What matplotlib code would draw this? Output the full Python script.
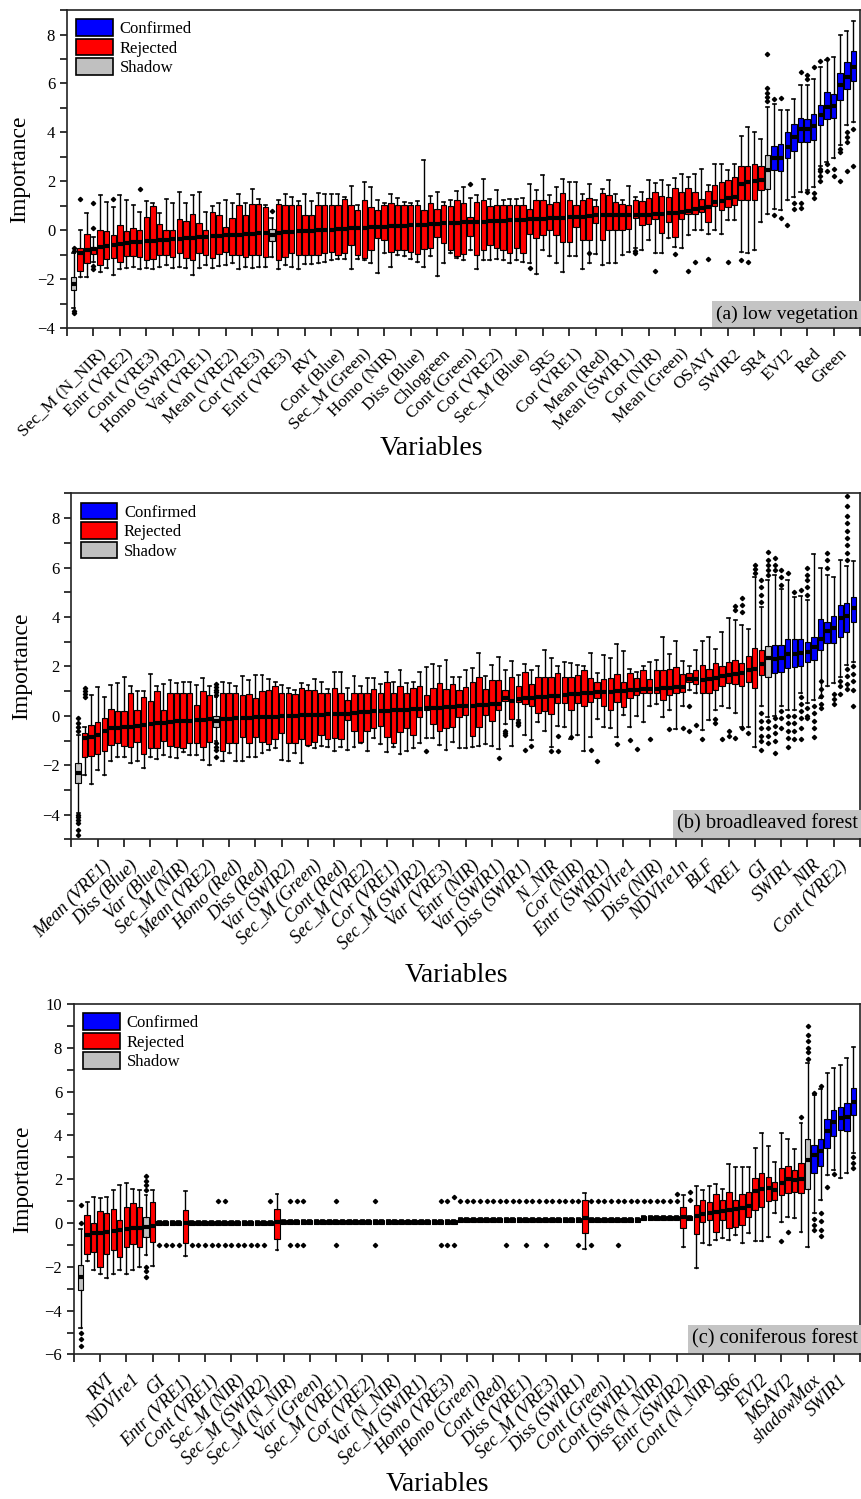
import matplotlib
matplotlib.use('Agg')
import matplotlib.pyplot as plt
import matplotlib.transforms as mtransforms
from matplotlib.patches import Patch
from matplotlib.ticker import MultipleLocator

plt.rcParams['font.family'] = ['Liberation Serif', 'DejaVu Serif']

RED, BLUE, GREY = '#ff0000', '#0000ff', '#c0c0c0'

# ---------------- (a) low vegetation ----------------
labels_a = ['Sec_M (N_NIR)', 'Entr (VRE2)', 'Cont (VRE3)', 'Homo (SWIR2)', 'Var (VRE1)',
            'Mean (VRE2)', 'Cor (VRE3)', 'Entr (VRE3)', 'RVI', 'Cont (Blue)', 'Sec_M (Green)',
            'Homo (NIR)', 'Diss (Blue)', 'Chlogreen', 'Cont (Green)', 'Cor (VRE2)',
            'Sec_M (Blue)', 'SR5', 'Cor (VRE1)', 'Mean (Red)', 'Mean (SWIR1)', 'Cor (NIR)',
            'Mean (Green)', 'OSAVI', 'SWIR2', 'SR4', 'EVI2', 'Red', 'Green']
q1_a = [-2.45, -1.66, -1.36, -0.98, -1.43, -1.16, -1.13, -1.29, -1.06, -1.06,
        -1.09, -1.22, -1.18, -1.02, -1.02, -1.09, -0.95, -1.12, -1.22, -0.95,
        -1.02, -1.12, -0.98, -0.88, -1.02, -1.02, -1.09, -1.02, -1.02, -1.09,
        -0.44, -1.22, -1.09, -0.95, -1.02, -1.02, -1.02, -1.02, -0.95, -0.88,
        -1.02, -0.95, -0.61, -1.02, -1.12, -0.82, -0.34, -0.41, -0.88, -0.82,
        -0.82, -0.88, -0.98, -0.78, -0.75, -0.30, -0.52, -0.82, -1.06, -0.98,
        -0.24, -1.02, -0.82, -0.61, -0.75, -0.82, -0.95, -0.71, -0.95, -0.14,
        -0.34, -0.20, 0.00, -0.20, -0.48, -0.48, 0.14, -0.41, -0.41, 0.30,
        -0.41, 0.00, 0.00, 0.00, 0.03, 0.50, 0.20, 0.27, 0.44, -0.11,
        0.34, -0.27, 0.44, 0.68, 0.68, 0.75, 0.34, 0.98, 0.84, 0.93,
        1.02, 1.22, 1.22, 1.25, 1.63, 1.70, 2.45, 2.42, 2.93, 3.24,
        3.61, 3.61, 3.67, 4.29, 4.56, 4.60, 5.31, 5.78, 6.10]
med_a = [-2.20, -0.95, -0.82, -0.78, -0.70, -0.64, -0.60, -0.57, -0.54, -0.50,
         -0.48, -0.46, -0.44, -0.41, -0.39, -0.37, -0.35, -0.33, -0.31, -0.29,
         -0.27, -0.25, -0.23, -0.21, -0.20, -0.18, -0.17, -0.15, -0.13, -0.12,
         -0.20, -0.10, -0.08, -0.07, -0.05, -0.04, -0.03, -0.01, 0.00, 0.02,
         0.04, 0.05, 0.07, 0.08, 0.10, 0.11, 0.13, 0.14, 0.16, 0.17,
         0.19, 0.20, 0.22, 0.23, 0.25, 0.26, 0.28, 0.29, 0.30, 0.32,
         0.33, 0.34, 0.35, 0.37, 0.38, 0.39, 0.41, 0.42, 0.43, 0.45,
         0.46, 0.47, 0.49, 0.50, 0.51, 0.52, 0.54, 0.55, 0.56, 0.60,
         0.60, 0.61, 0.61, 0.62, 0.62, 0.63, 0.64, 0.64, 0.65, 0.66,
         0.70, 0.72, 0.75, 0.80, 0.85, 0.90, 0.95, 1.15, 1.20, 1.30,
         1.35, 1.90, 1.95, 2.00, 2.05, 2.45, 2.93, 2.95, 3.40, 3.80,
         4.15, 4.15, 4.24, 4.69, 5.03, 5.06, 5.92, 6.26, 6.67]
q3_a = [-1.90, -0.75, -0.14, -0.68, 0.00, -0.04, -0.20, 0.20, -0.04, 0.10,
        0.00, 0.54, 0.99, 0.27, 0.00, 0.00, 0.44, 0.37, 0.68, 0.31,
        0.00, 0.75, 0.61, 0.14, 0.48, 1.02, 0.61, 1.06, 1.06, 0.95,
        0.03, 1.06, 1.02, 1.02, 1.02, 0.61, 0.61, 1.02, 1.02, 1.02,
        1.02, 1.29, 1.02, 0.82, 1.25, 0.95, 0.84, 1.02, 1.09, 1.02,
        1.02, 1.02, 1.02, 0.82, 1.09, 0.88, 1.02, 0.98, 1.22, 1.09,
        0.54, 1.16, 1.22, 0.98, 1.02, 1.02, 1.02, 1.02, 1.02, 0.88,
        1.25, 1.22, 1.06, 1.16, 1.50, 1.22, 1.02, 1.25, 1.32, 0.98,
        1.52, 1.44, 1.17, 1.06, 1.03, 1.25, 1.20, 1.33, 1.56, 1.40,
        1.36, 1.73, 1.56, 1.74, 1.56, 1.29, 1.61, 1.84, 1.96, 2.04,
        2.18, 2.63, 2.63, 2.72, 2.63, 3.09, 3.44, 3.51, 4.01, 4.35,
        4.60, 4.56, 4.76, 5.13, 5.65, 5.58, 6.42, 6.87, 7.32]
lo_a = [-3.20, -1.90, -1.90, -1.30, -1.70, -1.56, -1.84, -1.60, -1.56, -1.50,
        -1.60, -1.54, -1.60, -1.52, -1.43, -1.56, -1.52, -1.56, -1.84, -1.54,
        -1.43, -1.56, -1.47, -1.43, -1.36, -1.60, -1.52, -1.56, -1.52, -1.52,
        -1.09, -1.60, -1.43, -1.50, -1.59, -1.39, -1.40, -1.36, -1.29, -1.22,
        -1.16, -1.16, -1.60, -1.16, -1.20, -1.36, -1.74, -0.95, -1.52, -1.02,
        -1.06, -1.16, -1.29, -1.52, -1.06, -1.88, -1.36, -0.95, -1.12, -1.22,
        -0.82, -1.60, -1.20, -1.22, -1.16, -1.22, -1.33, -1.22, -1.29, -1.36,
        -1.80, -0.82, -1.06, -1.36, -1.70, -1.06, -1.06, -1.58, -1.36, -0.98,
        -1.43, -1.36, -1.36, -1.02, -0.88, -0.75, -0.82, -0.41, -0.95, -0.95,
        -0.34, -0.68, -0.75, -0.20, 0.00, 0.00, -0.14, 0.00, -0.14, 0.41,
        0.41, -0.88, -0.95, -0.82, 0.34, 0.68, 0.88, 0.84, 1.22, 1.36,
        1.56, 1.63, 1.77, 2.61, 2.79, 2.93, 3.47, 4.29, 4.42]
hi_a = [-0.95, 0.00, 0.72, -0.30, 1.43, 1.16, 0.95, 1.43, 1.22, 1.02,
        0.75, 1.20, 1.09, 0.72, 1.27, 1.09, 1.56, 1.09, 1.43, 1.56,
        0.75, 0.98, 1.09, 1.22, 1.12, 1.47, 1.09, 1.70, 1.29, 1.02,
        0.48, 1.22, 1.47, 1.36, 1.20, 1.47, 1.20, 1.52, 1.47, 1.47,
        1.46, 1.35, 1.81, 1.02, 1.97, 1.77, 1.22, 1.09, 1.46, 1.32,
        1.16, 1.12, 1.18, 2.86, 1.40, 1.54, 1.15, 1.25, 1.61, 1.77,
        1.33, 1.43, 2.10, 1.29, 1.63, 1.22, 1.29, 1.29, 1.32, 1.88,
        1.66, 2.27, 1.43, 1.77, 2.10, 1.97, 1.95, 1.47, 1.90, 1.25,
        1.70, 2.07, 1.47, 1.22, 1.81, 1.36, 1.55, 2.04, 1.93, 2.07,
        1.84, 2.15, 2.31, 2.18, 2.31, 2.52, 1.84, 2.69, 2.72, 2.45,
        2.72, 3.84, 4.22, 4.01, 3.74, 5.03, 5.17, 4.90, 4.90, 5.37,
        5.92, 5.92, 6.19, 6.67, 6.94, 7.07, 7.96, 8.14, 8.57]
fliers_a = {1: [-3.4, -3.3, -0.85, -0.75], 2: [1.27], 4: [1.09, 0.07, -1.45, -1.6], 7: [1.27],
            11: [1.67], 31: [0.8], 61: [1.9], 70: [-1.56], 79: [-0.95], 86: [-0.85, -0.95],
            89: [-1.66], 92: [-0.98], 94: [-1.66], 95: [-1.29], 97: [-1.16], 100: [-1.29],
            102: [-1.2], 103: [-1.29], 106: [5.3, 5.45, 5.6, 5.8, 7.2], 107: [0.61, 5.35],
            108: [0.48, 5.42], 109: [0.2], 110: [1.09, 0.85], 111: [6.46, 1.09, 0.9],
            112: [6.2, 6.33, 1.56], 113: [6.67, 1.5, 1.3], 114: [2.0, 2.2, 2.4, 2.5, 6.9],
            115: [2.7, 2.4, 7.0], 116: [2.5, 2.2], 117: [3.3, 3.2, 2.0],
            118: [4.0, 3.8, 3.6, 2.4], 119: [4.15, 2.63]}
shadow_a = [1, 31, 106]
confirmed_a = [107, 108, 109, 110, 111, 112, 113, 114, 115, 116, 117, 118, 119]

# ---------------- (b) broadleaved forest ----------------
labels_b = ['Mean (VRE1)', 'Diss (Blue)', 'Var (Blue)', 'Sec_M (NIR)', 'Mean (VRE2)',
            'Homo (Red)', 'Diss (Red)', 'Var (SWIR2)', 'Sec_M (Green)', 'Cont (Red)',
            'Sec_M (VRE2)', 'Cor (VRE1)', 'Sec_M (SWIR2)', 'Var (VRE3)', 'Entr (NIR)',
            'Var (SWIR1)', 'Diss (SWIR1)', 'N_NIR', 'Cor (NIR)', 'Entr (SWIR1)', 'NDVIre1',
            'Diss (NIR)', 'NDVIre1n', 'BLF', 'VRE1', 'GI', 'SWIR1', 'NIR', 'Cont (VRE2)']
q1_b = [-2.73, -1.65, -1.62, -1.54, -1.44, -1.17, -1.11, -1.21, -1.27, -1.04,
        -1.54, -1.31, -1.31, -1.00, -1.21, -1.27, -1.31, -1.08, -1.08, -1.24,
        -1.07, -0.43, -1.44, -1.11, -1.11, -0.86, -1.11, -0.84, -1.04, -1.13,
        -0.94, -0.70, -1.08, -1.08, -0.94, -1.17, -1.04, -0.77, -0.94, -0.90,
        -0.94, -0.16, -0.63, -1.04, -0.63, -0.50, -0.40, -0.84, -1.08, -0.67,
        -0.50, -0.77, -0.03, 0.24, -0.32, -0.63, -0.50, -0.46, -0.05, 0.04,
        -0.81, -0.43, 0.04, -0.19, 0.24, 0.62, -0.13, 0.58, 0.49, 0.40,
        0.13, 0.18, 0.08, 0.51, 0.51, 0.24, 0.51, 0.38, 0.58, 0.72,
        0.40, 0.24, 0.58, 0.34, 0.72, 0.85, 0.92, 0.92, 0.92, 0.65,
        0.85, 0.92, 0.98, 1.39, 1.30, 0.94, 0.92, 1.05, 1.21, 1.35,
        1.30, 1.21, 1.39, 1.12, 1.66, 1.59, 1.73, 1.79, 1.93, 1.97,
        2.00, 2.20, 2.27, 2.67, 2.94, 2.94, 3.21, 3.41, 3.78]
med_b = [-2.32, -0.90, -0.84, -0.77, -0.63, -0.50, -0.49, -0.46, -0.43, -0.40,
         -0.36, -0.32, -0.30, -0.27, -0.23, -0.22, -0.20, -0.19, -0.16, -0.15,
         -0.13, -0.20, -0.12, -0.11, -0.09, -0.08, -0.07, -0.06, -0.05, -0.04,
         -0.03, -0.01, 0.00, 0.01, 0.02, 0.03, 0.04, 0.05, 0.06, 0.07,
         0.08, 0.09, 0.11, 0.15, 0.17, 0.18, 0.19, 0.20, 0.22, 0.23,
         0.25, 0.26, 0.28, 0.30, 0.32, 0.33, 0.35, 0.37, 0.38, 0.40,
         0.42, 0.44, 0.46, 0.48, 0.50, 0.72, 0.60, 0.70, 0.72, 0.74,
         0.76, 0.78, 0.80, 0.82, 0.85, 0.87, 0.89, 0.91, 0.93, 0.95,
         0.96, 0.98, 1.00, 1.01, 1.03, 1.05, 1.07, 1.09, 1.10, 1.12,
         1.14, 1.16, 1.18, 1.50, 1.50, 1.45, 1.48, 1.55, 1.60, 1.65,
         1.70, 1.75, 1.85, 1.90, 2.10, 2.35, 2.30, 2.35, 2.50, 2.50,
         2.55, 2.60, 2.80, 3.10, 3.45, 3.55, 3.95, 4.05, 4.35]
q3_b = [-1.92, -0.70, -0.36, -0.26, -0.07, 0.27, 0.18, 0.18, 0.94, 0.22,
        0.78, 0.62, 0.99, 0.22, 0.94, 0.94, 0.94, 0.94, 0.45, 0.99,
        0.85, 0.00, 0.94, 0.94, 0.94, 0.85, 0.89, 0.72, 0.99, 1.03,
        1.21, 0.92, 0.94, 0.89, 1.12, 1.05, 1.03, 0.94, 0.92, 1.12,
        0.94, 0.65, 0.94, 0.92, 0.92, 1.08, 0.94, 1.39, 0.92, 1.21,
        0.94, 1.12, 1.21, 0.85, 1.12, 1.32, 1.08, 1.30, 1.03, 1.16,
        1.39, 1.57, 1.08, 1.46, 1.46, 1.05, 1.59, 1.21, 1.79, 1.30,
        1.57, 1.57, 1.57, 1.75, 1.59, 1.59, 1.66, 1.86, 1.52, 1.39,
        1.50, 1.52, 1.70, 1.39, 1.75, 1.52, 1.84, 1.48, 1.84, 1.86,
        1.89, 1.97, 1.70, 1.75, 1.86, 2.06, 1.89, 2.16, 2.00, 2.20,
        2.27, 2.16, 2.43, 2.74, 2.67, 2.83, 2.87, 2.87, 3.10, 3.10,
        3.10, 2.97, 3.21, 3.91, 3.78, 4.05, 4.49, 4.56, 4.83]
lo_b = [-3.94, -2.39, -2.77, -2.21, -2.39, -1.81, -1.67, -1.67, -1.89, -1.81,
        -2.12, -1.67, -1.75, -1.58, -1.65, -1.71, -1.48, -1.58, -1.58, -1.78,
        -1.98, -1.00, -1.81, -1.51, -1.81, -1.81, -1.65, -1.67, -1.51, -1.38,
        -1.31, -1.78, -1.81, -1.51, -1.89, -1.21, -1.30, -1.21, -1.24, -1.44,
        -1.27, -1.38, -1.24, -1.11, -1.44, -0.90, -1.13, -1.48, -1.24, -1.54,
        -1.44, -1.31, -1.11, -0.90, -0.90, -1.17, -1.38, -1.04, -1.31, -1.31,
        -1.24, -1.21, -1.13, -1.21, -1.35, -0.32, -1.21, -0.16, -0.77, -0.97,
        -0.23, -0.63, -1.24, -0.40, -0.43, -0.94, -0.77, -1.44, -0.84, -0.11,
        -0.43, -0.50, -0.84, 0.04, -0.43, 0.00, -0.23, 0.40, 0.48, -0.05,
        0.24, -0.54, 0.38, 1.05, 0.92, -0.57, -0.16, 0.24, 0.38, 0.31,
        0.11, -0.43, -0.43, -1.27, 0.40, -0.03, 0.00, 0.38, 0.24, 0.24,
        0.92, 0.54, 0.65, 0.72, 1.19, 1.32, 1.59, 2.05, 2.19]
hi_b = [-0.77, -0.45, 0.85, 1.16, 0.78, 1.26, 1.32, 1.57, 1.19, 1.01,
        0.99, 1.70, 1.20, 1.28, 1.46, 1.32, 1.39, 1.39, 1.23, 1.52,
        1.19, 0.75, 1.36, 1.32, 1.21, 1.62, 1.46, 1.66, 1.66, 1.48,
        1.39, 1.26, 1.12, 1.05, 1.32, 1.26, 1.48, 1.39, 1.10, 1.79,
        1.79, 1.12, 1.62, 1.21, 1.52, 1.52, 1.30, 1.79, 1.39, 1.86,
        1.35, 1.39, 1.79, 1.97, 2.11, 2.02, 2.27, 1.57, 1.59, 1.86,
        1.93, 2.54, 1.62, 2.06, 2.40, 1.84, 2.24, 1.66, 2.11, 1.84,
        2.02, 2.67, 2.33, 2.02, 2.20, 2.16, 2.06, 2.00, 2.54, 1.73,
        2.47, 2.33, 2.91, 2.63, 1.89, 1.79, 2.00, 2.20, 2.27, 3.18,
        2.51, 3.05, 2.24, 2.02, 2.67, 3.02, 3.21, 2.70, 3.41, 3.95,
        3.89, 3.68, 3.51, 5.61, 4.42, 5.50, 5.71, 5.13, 5.51, 4.80,
        4.86, 4.70, 6.56, 5.98, 5.71, 5.64, 6.32, 6.05, 6.25]
fliers_b = {1: [-0.1, -0.3, -0.45, -0.63, -4.0, -4.1, -4.2, -4.35, -4.6, -4.82],
            2: [0.78, 0.9, 1.02, 1.12],
            22: [0.85, 0.95, 1.05, 1.15, 1.28, -1.1, -1.25, -1.4, -1.65],
            54: [-1.44], 65: [-1.71], 66: [-0.63, -0.7, -0.77], 68: [-0.23, -0.3, -0.36],
            69: [-1.38], 70: [-1.21], 73: [-1.44], 74: [-0.81, -1.44], 76: [-0.84],
            79: [-1.38], 80: [-1.81], 83: [-1.13], 85: [-0.99], 86: [-1.35], 88: [-0.94],
            91: [-0.54], 93: [-0.5], 94: [0.38, -0.63], 95: [-0.36], 96: [-0.94],
            98: [-0.13, -0.3], 99: [-0.94], 100: [-0.6, -0.82], 101: [4.3, 4.45, -0.91],
            102: [4.2, 4.5, 4.76, -0.5], 103: [-0.7], 104: [5.8, 5.95, 6.1],
            105: [4.6, 4.9, 5.2, 5.5, 0.1, -0.2, -0.5, -0.8, -1.0, -1.37],
            106: [5.7, 5.9, 6.1, 6.3, 6.65, -0.2, -0.5, -0.8, -1.1],
            107: [5.9, 6.1, 6.4, -0.1, -0.4, -0.7, -1.0, -1.5],
            108: [5.3, 5.6, 5.9, 0.2, -0.1, -0.5],
            109: [5.8, 0.0, -0.3, -0.6, -0.9, -1.25],
            110: [5.0, 0.0, -0.3, -0.6, -0.95],
            111: [5.1, 0.75, 0.5, 0.2, -0.1, -0.5, -0.95],
            112: [4.9, 5.2, 5.5, 5.7, 6.0, 0.3, 0.0, -0.1],
            113: [0.4, 0.1, -0.2, -0.5, -0.85],
            114: [1.4, 1.1, 0.8, 0.5, 0.3],
            115: [6.0, 6.3, 6.6],
            116: [0.9, 0.7, 0.5],
            117: [1.4, 1.2, 0.9],
            118: [6.3, 6.6, 6.9, 7.2, 7.5, 7.8, 8.1, 8.5, 8.9, 1.9, 1.6, 1.3, 1.1],
            119: [2.0, 1.7, 1.4, 1.05, 0.38]}
shadow_b = [1, 22, 106]
confirmed_b = [107, 108, 109, 110, 111, 112, 113, 114, 115, 116, 117, 118, 119]

# ---------------- (c) coniferous forest ----------------
labels_c = ['RVI', 'NDVIre1', 'GI', 'Entr (VRE1)', 'Cont (VRE1)', 'Sec_M (NIR)',
            'Sec_M (SWIR2)', 'Sec_M (N_NIR)', 'Var (Green)', 'Sec_M (VRE1)', 'Cor (VRE2)',
            'Var (N_NIR)', 'Sec_M (SWIR1)', 'Homo (VRE3)', 'Homo (Green)', 'Cont (Red)',
            'Diss (VRE1)', 'Sec_M (VRE3)', 'Diss (SWIR1)', 'Cont (Green)', 'Cont (SWIR1)',
            'Diss (N_NIR)', 'Entr (SWIR2)', 'Cont (N_NIR)', 'SR6', 'EVI2', 'MSAVI2',
            'shadowMax', 'SWIR1']
q1_c = [-3.06, -1.39, -1.31, -1.99, -1.39, -1.23, -1.57, -1.11, -0.96, -1.08,
        -0.62, -0.85, -0.09, -0.09, -0.09, -0.09, -0.93, -0.09, -0.09, -0.09,
        -0.09, -0.09, -0.09, -0.09, -0.09, -0.09, -0.09, -0.09, -0.09, -0.09,
        -0.75, -0.04, -0.04, -0.04, -0.04, -0.04, -0.04, -0.04, -0.04, -0.04,
        -0.04, -0.04, -0.04, -0.04, -0.04, -0.04, -0.04, -0.04, -0.04, -0.04,
        -0.04, -0.04, -0.04, -0.04, -0.04, -0.04, -0.04, -0.04, 0.03, 0.03,
        0.03, 0.03, 0.03, 0.03, 0.03, 0.03, 0.03, 0.03, 0.03, 0.03,
        0.03, 0.03, 0.03, 0.03, 0.03, 0.03, 0.03, -0.47, 0.03, 0.03,
        0.03, 0.03, 0.03, 0.03, 0.03, 0.03, 0.13, 0.13, 0.13, 0.13,
        0.13, 0.13, -0.24, 0.13, -0.52, 0.06, 0.14, -0.40, 0.14, -0.24,
        -0.17, -0.09, 0.29, 0.59, 0.75, 1.02, 1.05, 1.28, 1.39, 1.43,
        1.39, 1.54, 2.27, 2.60, 3.41, 3.97, 4.25, 4.22, 4.93]
med_c = [-2.45, -0.55, -0.47, -0.47, -0.40, -0.37, -0.32, -0.28, -0.24, -0.21,
         -0.17, -0.14, 0.00, 0.00, 0.00, 0.00, 0.00, 0.00, 0.00, 0.00,
         0.00, 0.00, 0.00, 0.00, 0.00, 0.00, 0.00, 0.00, 0.00, 0.00,
         0.06, 0.05, 0.05, 0.05, 0.05, 0.05, 0.05, 0.05, 0.05, 0.05,
         0.05, 0.05, 0.05, 0.05, 0.05, 0.05, 0.05, 0.05, 0.05, 0.05,
         0.05, 0.05, 0.05, 0.05, 0.05, 0.05, 0.05, 0.05, 0.12, 0.12,
         0.12, 0.12, 0.12, 0.12, 0.12, 0.12, 0.12, 0.12, 0.12, 0.12,
         0.12, 0.12, 0.12, 0.12, 0.12, 0.12, 0.12, 0.21, 0.12, 0.12,
         0.12, 0.12, 0.12, 0.12, 0.12, 0.12, 0.22, 0.22, 0.22, 0.22,
         0.22, 0.22, 0.29, 0.22, 0.32, 0.42, 0.45, 0.50, 0.55, 0.60,
         0.65, 0.70, 0.80, 1.45, 1.55, 1.60, 1.50, 1.85, 2.00, 1.95,
         2.00, 2.88, 3.10, 3.30, 4.20, 4.60, 4.80, 4.85, 5.55]
q3_c = [-1.92, 0.37, 0.02, 0.56, 0.44, 0.62, 0.14, 0.75, 0.90, 0.75,
        0.26, 0.97, 0.09, 0.09, 0.09, 0.09, 0.59, 0.09, 0.09, 0.09,
        0.09, 0.09, 0.09, 0.09, 0.09, 0.09, 0.09, 0.09, 0.09, 0.09,
        0.62, 0.14, 0.14, 0.14, 0.14, 0.14, 0.14, 0.14, 0.14, 0.14,
        0.14, 0.14, 0.14, 0.14, 0.14, 0.14, 0.14, 0.14, 0.14, 0.14,
        0.14, 0.14, 0.14, 0.14, 0.14, 0.14, 0.14, 0.14, 0.21, 0.21,
        0.21, 0.21, 0.21, 0.21, 0.21, 0.21, 0.21, 0.21, 0.21, 0.21,
        0.21, 0.21, 0.21, 0.21, 0.21, 0.21, 0.21, 1.05, 0.21, 0.21,
        0.21, 0.21, 0.21, 0.21, 0.21, 0.21, 0.31, 0.31, 0.31, 0.31,
        0.31, 0.31, 0.72, 0.31, 0.82, 1.05, 0.97, 1.35, 1.05, 1.43,
        1.05, 1.35, 1.43, 2.04, 2.27, 2.12, 1.89, 2.50, 2.62, 2.42,
        2.72, 3.82, 3.56, 3.82, 4.73, 5.16, 5.31, 5.46, 6.15]
lo_c = [-4.80, -1.72, -2.12, -2.33, -2.53, -2.33, -2.15, -2.33, -2.12, -1.99,
        -1.46, -1.96, -0.09, -0.09, -0.09, -0.09, -1.51, -0.09, -0.09, -0.09,
        -0.09, -0.09, -0.09, -0.09, -0.09, -0.09, -0.09, -0.09, -0.09, -0.09,
        -1.23, -0.04, -0.04, -0.04, -0.04, -0.04, -0.04, -0.04, -0.04, -0.04,
        -0.04, -0.04, -0.04, -0.04, -0.04, -0.04, -0.04, -0.04, -0.04, -0.04,
        -0.04, -0.04, -0.04, -0.04, -0.04, -0.04, -0.04, -0.04, 0.03, 0.03,
        0.03, 0.03, 0.03, 0.03, 0.03, 0.03, 0.03, 0.03, 0.03, 0.03,
        0.03, 0.03, 0.03, 0.03, 0.03, 0.03, 0.03, -1.20, 0.03, 0.03,
        0.03, 0.03, 0.03, 0.03, 0.03, 0.03, 0.13, 0.13, 0.13, 0.13,
        0.13, 0.13, -1.08, 0.13, -2.07, -0.93, -1.00, -0.78, -0.70, -0.78,
        -0.55, -0.90, -0.47, -0.81, -0.81, -0.63, 0.44, 0.06, 0.29, 0.21,
        -0.40, -1.11, 0.44, 1.05, 2.19, 2.42, 2.04, 2.27, 3.18]
hi_c = [-0.28, 0.97, 1.20, 1.13, 1.20, 1.50, 1.74, 1.84, 1.54, 1.50,
        1.28, 1.50, 0.09, 0.09, 0.09, 0.09, 1.48, 0.09, 0.09, 0.09,
        0.09, 0.09, 0.09, 0.09, 0.09, 0.09, 0.09, 0.09, 0.09, 0.09,
        1.35, 0.14, 0.14, 0.14, 0.14, 0.14, 0.14, 0.14, 0.14, 0.14,
        0.14, 0.14, 0.14, 0.14, 0.14, 0.14, 0.14, 0.14, 0.14, 0.14,
        0.14, 0.14, 0.14, 0.14, 0.14, 0.14, 0.14, 0.14, 0.21, 0.21,
        0.21, 0.21, 0.21, 0.21, 0.21, 0.21, 0.21, 0.21, 0.21, 0.21,
        0.21, 0.21, 0.21, 0.21, 0.21, 0.21, 0.21, 1.39, 0.21, 0.21,
        0.21, 0.21, 0.21, 0.21, 0.21, 0.21, 0.31, 0.31, 0.31, 0.31,
        0.31, 0.31, 1.28, 0.31, 1.69, 1.50, 1.69, 1.78, 1.54, 2.69,
        2.57, 2.57, 2.57, 3.41, 4.12, 3.53, 2.80, 4.09, 3.82, 3.36,
        4.55, 7.32, 5.84, 6.10, 6.86, 7.06, 7.21, 7.52, 8.05]
# rows of single outliers at +1 and -1 beside the flat boxes
flier_up_c = [22, 23, 30, 33, 34, 35, 40, 46, 56, 57, 59, 60, 61, 62, 63, 64, 65, 66, 67,
              68, 69, 70, 71, 72, 73, 74, 75, 76, 77, 79, 80, 81, 82, 83, 84, 85, 86, 87,
              88, 89, 90, 91, 92]
flier_down_c = [13, 14, 15, 16, 18, 19, 20, 21, 22, 23, 24, 25, 26, 27, 28, 29, 33, 34, 35,
                40, 46, 56, 57, 58, 66, 69, 72, 77, 79, 83]
fliers_c = {1: [0.82, 0.0, -5.0, -5.3, -5.6], 11: [1.5, 1.74, 1.9, 2.15, -2.0, -2.2, -2.45],
            58: [1.2], 92: [1.35], 94: [1.05, 1.43], 108: [-0.8], 109: [-0.4], 111: [4.86],
            112: [7.5, 7.8, 8.0, 8.3, 8.6, 9.0], 113: [0.2, -0.1, -0.3, 5.95],
            114: [0.44, 0.1, -0.3, -0.6, 6.25], 115: [1.66], 116: [2.25],
            119: [3.0, 2.75, 2.5]}
shadow_c = [1, 11, 112]
confirmed_c = [113, 114, 115, 116, 117, 118, 119]


def draw_panel(ax, q1, med, q3, lo, hi, fliers, shadow, confirmed, labels,
               ylim, title, italic, xlab_xy, ylab_x, title_size):
    pos = list(range(1, len(med) + 1))
    stats = []
    for i, p in enumerate(pos):
        stats.append(dict(med=med[i], q1=q1[i], q3=q3[i], whislo=lo[i],
                          whishi=hi[i], fliers=fliers.get(p, [])))
    bp = ax.bxp(stats, positions=pos, widths=0.82, capwidths=0.45,
                patch_artist=True, manage_ticks=False,
                boxprops=dict(edgecolor='black', linewidth=0.8),
                medianprops=dict(color='black', linewidth=3.0, solid_capstyle='butt'),
                whiskerprops=dict(color='black', linewidth=1.0),
                capprops=dict(color='black', linewidth=1.2),
                flierprops=dict(marker='D', markersize=2.2, markerfacecolor='black',
                                markeredgecolor='black', linestyle='none'))
    for p, box in zip(pos, bp['boxes']):
        if p in shadow:
            box.set_facecolor(GREY)
        elif p in confirmed:
            box.set_facecolor(BLUE)
        else:
            box.set_facecolor(RED)

    ax.set_xlim(0, 120)
    ax.set_ylim(*ylim)
    ax.set_xticks(range(0, 121, 4), [''] + labels + [''])
    ax.yaxis.set_major_locator(MultipleLocator(2))
    ax.yaxis.set_minor_locator(MultipleLocator(1))
    ax.tick_params(axis='x', direction='out', length=6, width=1.1, pad=11,
                   labelsize=13.2 if italic else 12.5)
    ax.tick_params(axis='y', which='both', direction='out', length=5, width=1.1, labelsize=12)
    shift = mtransforms.ScaledTranslation(0.11, 0, ax.figure.dpi_scale_trans)
    for t in ax.get_xticklabels():
        t.set_rotation(45)
        t.set_ha('right')
        t.set_va('center')
        t.set_rotation_mode('anchor')
        if italic:
            t.set_style('italic')
        t.set_transform(t.get_transform() + shift)
    for s in ax.spines.values():
        s.set_linewidth(1.2)
        s.set_color('#222222')

    ax.set_ylabel('Importance', fontsize=17)
    ax.yaxis.set_label_coords(ylab_x, 0.5)
    ax.set_xlabel('Variables', fontsize=20)
    ax.xaxis.set_label_coords(*xlab_xy)

    handles = [Patch(facecolor=BLUE, edgecolor='black', linewidth=1.2, label='Confirmed'),
               Patch(facecolor=RED, edgecolor='black', linewidth=1.2, label='Rejected'),
               Patch(facecolor=GREY, edgecolor='black', linewidth=1.2, label='Shadow')]
    ax.legend(handles=handles, loc='upper left', frameon=False, fontsize=12,
              handlelength=2.2, handleheight=1.15, handletextpad=0.4,
              labelspacing=0.1, borderaxespad=0.35, borderpad=0.2)
    ax.text(0.998, 0.017, title, transform=ax.transAxes, ha='right', va='bottom',
            fontsize=title_size, bbox=dict(boxstyle='square,pad=0.22', facecolor='#c4c4c4',
                                           edgecolor='none'))


fig = plt.figure(figsize=(8.62, 14.99), dpi=100)
ax_a = fig.add_axes([0.0777, 0.7812, 0.9200, 0.2121])
ax_b = fig.add_axes([0.0829, 0.4400, 0.9147, 0.2308])
ax_c = fig.add_axes([0.0858, 0.0964, 0.9118, 0.2338])

draw_panel(ax_a, q1_a, med_a, q3_a, lo_a, hi_a, fliers_a, shadow_a, confirmed_a, labels_a,
           (-4, 9), '(a) low vegetation', False, (0.460, -0.340), -0.047, 14)
draw_panel(ax_b, q1_b, med_b, q3_b, lo_b, hi_b, fliers_b, shadow_b, confirmed_b, labels_b,
           (-5, 9), '(b) broadleaved forest', True, (0.488, -0.356), -0.050, 14.8)

all_fliers_c = {k: list(v) for k, v in fliers_c.items()}
for p in flier_up_c:
    all_fliers_c.setdefault(p, []).append(1.0)
for p in flier_down_c:
    all_fliers_c.setdefault(p, []).append(-1.0)
draw_panel(ax_c, q1_c, med_c, q3_c, lo_c, hi_c, all_fliers_c, shadow_c, confirmed_c, labels_c,
           (-6, 10), '(c) coniferous forest', True, (0.462, -0.334), -0.052, 14.8)

fig.savefig('out.png', dpi=100)
